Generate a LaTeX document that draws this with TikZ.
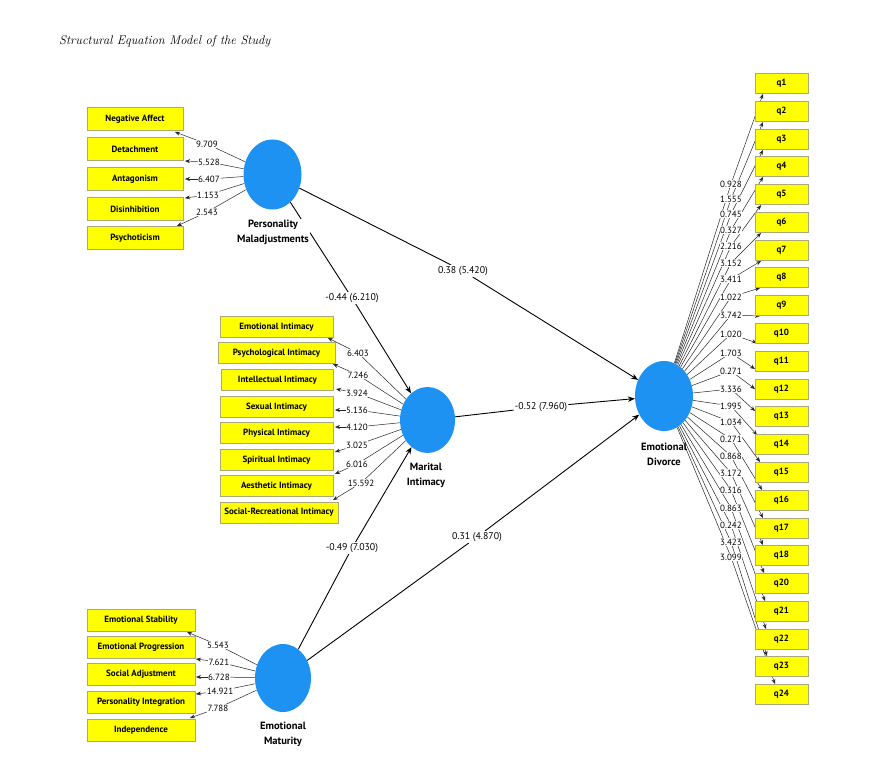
\documentclass[tikz,border=0pt]{standalone}
\usepackage{fontspec}
\newfontfamily\ptsans{PT Sans}
\usetikzlibrary{shapes.geometric,arrows.meta}
\pgfdeclarelayer{bg}
\pgfsetlayers{bg,main}
\definecolor{lvblue}{RGB}{30,146,242}
\definecolor{boxfill}{RGB}{255,255,0}
\definecolor{boxline}{RGB}{170,170,120}
\begin{document}
\begin{tikzpicture}[x=1pt,y=-1pt,
  lv/.style={ellipse, fill=lvblue, inner sep=0pt, minimum width=58, minimum height=70},
  lvname/.style={align=center, font=\ptsans\bfseries\fontsize{10.5}{15}\selectfont, inner sep=1pt},
  ind/.style={rectangle, draw=boxline, fill=boxfill, line width=0.5pt, inner sep=0pt,
    font=\ptsans\bfseries\fontsize{9}{10}\selectfont, minimum height=22},
  qbox/.style={ind, minimum width=53, minimum height=20},
  ld/.style={fill=white, inner sep=0.5pt, font=\ptsans\fontsize{9}{10}\selectfont},
  pl/.style={fill=white, inner sep=1.2pt, font=\ptsans\fontsize{9.8}{11}\selectfont},
  il/.style={line width=0.5pt, draw=black!85},
  ia/.style={il, -{Stealth[length=5pt,width=4pt]}},
  sl/.style={line width=0.9pt, draw=black},
  sa/.style={sl, -{Stealth[length=7pt,width=5.5pt]}}
]
\useasboundingbox (0,0) rectangle (880,767);
\node[anchor=west, font=\itshape\fontsize{12.6}{14}\selectfont, inner sep=0pt] (title) at (59,41) {Structural Equation Model of the Study};

% latent variables
\node[lv] (PM) at (272.5,174.5) {};
\node[lv, minimum width=55, minimum height=66] (MI) at (427.5,420) {};
\node[lv, minimum width=56, minimum height=68] (EM) at (283,678) {};
\node[lv] (ED) at (664,396) {};

\node[lvname, fill=white] (PMn) at (273,232) {Personality\\Maladjustments};
\node[lvname] (MIn) at (426,475) {Marital\\Intimacy};
\node[lvname] (EMn) at (283,734) {Emotional\\Maturity};
\node[lvname] (EDn) at (664,454) {Emotional\\Divorce};

% Personality Maladjustments indicators
\node[ind, minimum width=96, minimum height=23] (na) at (135,119) {Negative Affect};
\node[ind, minimum width=96, minimum height=23] (det) at (135,149) {Detachment};
\node[ind, minimum width=96, minimum height=23] (ant) at (135,179) {Antagonism};
\node[ind, minimum width=96, minimum height=23] (dis) at (135,209) {Disinhibition};
\node[ind, minimum width=96, minimum height=23] (psy) at (135,238) {Psychoticism};
\node[ld] (l1) at (207,144) {9.709};
\node[ld] (l2) at (209,162) {5.528};
\node[ld] (l3) at (209,179) {6.407};
\node[ld] (l4) at (208,195) {1.153};
\node[ld] (l5) at (207,212) {2.543};
\coordinate (t1) at (175,132);
\coordinate (t2) at (185,161);
\coordinate (t3) at (185,179);
\coordinate (t4) at (185,198);
\coordinate (t5) at (177,226);

% Marital Intimacy indicators
\node[ind, minimum width=113, minimum height=21] (ei) at (276.5,327) {Emotional Intimacy};
\node[ind, minimum width=117, minimum height=21] (pi) at (276.5,353) {Psychological Intimacy};
\node[ind, minimum width=112, minimum height=21] (ii) at (277.5,380) {Intellectual Intimacy};
\node[ind, minimum width=113, minimum height=21] (sx) at (276.5,407) {Sexual Intimacy};
\node[ind, minimum width=113, minimum height=21] (ph) at (276.5,433) {Physical Intimacy};
\node[ind, minimum width=113, minimum height=21] (sp) at (276.5,460) {Spiritual Intimacy};
\node[ind, minimum width=113, minimum height=21] (ae) at (276.5,486) {Aesthetic Intimacy};
\node[ind, minimum width=118, minimum height=21] (sr) at (279,512.5) {Social-Recreational Intimacy};
\node[ld] (m1) at (358,353) {6.403};
\node[ld] (m2) at (358,375) {7.246};
\node[ld] (m3) at (357,393) {3.924};
\node[ld] (m4) at (357,410) {5.136};
\node[ld] (m5) at (357,427) {4.120};
\node[ld] (m6) at (357,445) {3.025};
\node[ld] (m7) at (357,464) {6.016};
\node[ld] (m8) at (361,483) {15.592};
\coordinate (u1) at (328,338);
\coordinate (u2) at (333,364);
\coordinate (u3) at (336,389);
\coordinate (u4) at (335,410);
\coordinate (u5) at (335,427);
\coordinate (u6) at (335,452);
\coordinate (u7) at (335,474);
\coordinate (u8) at (333,500);

% Emotional Maturity indicators
\node[ind, minimum width=108, minimum height=22] (es) at (141,620) {Emotional Stability};
\node[ind, minimum width=108, minimum height=22] (ep) at (141,647) {Emotional Progression};
\node[ind, minimum width=108, minimum height=22] (sa) at (141,674.5) {Social Adjustment};
\node[ind, minimum width=108, minimum height=22] (pin) at (141,702.5) {Personality Integration};
\node[ind, minimum width=108, minimum height=22] (ind) at (141,730) {Independence};
\node[ld] (e1) at (218,645) {5.543};
\node[ld] (e2) at (219,662) {7.621};
\node[ld] (e3) at (219,677) {6.728};
\node[ld] (e4) at (220,691) {14.921};
\node[ld] (e5) at (218,708) {7.788};
\coordinate (v1) at (187,632);
\coordinate (v2) at (196,659);
\coordinate (v3) at (196,677);
\coordinate (v4) at (196,694);
\coordinate (v5) at (190,718);

% Emotional Divorce indicators
\foreach \i/\n/\yc/\ly/\v/\tx/\ty in {
  1/q1/83/184/0.928/763/94,
  2/q2/111/199/1.555/763/122,
  3/q3/139/214/0.745/763/150,
  4/q4/166/230/0.327/763/177,
  5/q5/194/246/2.216/761/205,
  6/q6/222/263/3.152/761/233,
  7/q7/250/279/3.411/761/261,
  8/q8/277/297/1.022/760/288,
  9/q9/305/315/3.742/760/316,
  10/q10/333/334/1.020/757/343,
  11/q11/361/353/1.703/755/369,
  12/q12/389/371/0.271/755/389,
  13/q13/416/389/3.336/755/411,
  14/q14/444/406/1.995/757/435,
  15/q15/472/422/1.034/760/462,
  16/q16/500/439/0.271/762/490,
  17/q17/528/456/0.868/763/518,
  18/q18/555/473/3.172/763/545,
  19/q20/583/490/0.316/764/573,
  20/q21/611/508/0.863/765/601,
  21/q22/639/525/0.242/766/629,
  22/q23/666/542/3.423/767/656,
  23/q24/694/557/3.099/775/684}{
  \node[qbox] (q\i) at (781.5,\yc) {\n};
  \node[ld] (r\i) at (731,\ly) {\v};
  \coordinate (rt\i) at (\tx,\ty);
}

% structural path labels
\node[pl] (p1) at (463,271) {0.38 (5.420)};
\node[pl] (p2) at (352,298) {-0.44 (6.210)};
\node[pl] (p3) at (541,407) {-0.52 (7.960)};
\node[pl] (p4) at (352,548) {-0.49 (7.030)};
\node[pl] (p5) at (477,537) {0.31 (4.870)};

\begin{pgfonlayer}{bg}
  \foreach \a in {1,...,5} {
    \draw[il] (PM) -- (l\a);
    \draw[ia] (l\a) -- (t\a);
    \draw[il] (EM) -- (e\a);
    \draw[ia] (e\a) -- (v\a);
  }
  \foreach \a in {1,...,8} {
    \draw[il] (MI) -- (m\a);
    \draw[ia] (m\a) -- (u\a);
  }
  \foreach \a in {1,...,23} {
    \draw[il] (ED) -- (r\a);
    \draw[ia] (r\a) -- (rt\a);
  }
  \draw[sl] (PM) -- (p1); \draw[sa] (p1) -- (ED);
  \draw[sl] (PM) -- (p2); \draw[sa] (p2) -- (MI);
  \draw[sl] (MI) -- (p3); \draw[sa] (p3) -- (ED);
  \draw[sl] (EM) -- (p4); \draw[sa] (p4) -- (MI);
  \draw[sl] (EM) -- (p5); \draw[sa] (p5) -- (ED);
\end{pgfonlayer}
\end{tikzpicture}
\end{document}
